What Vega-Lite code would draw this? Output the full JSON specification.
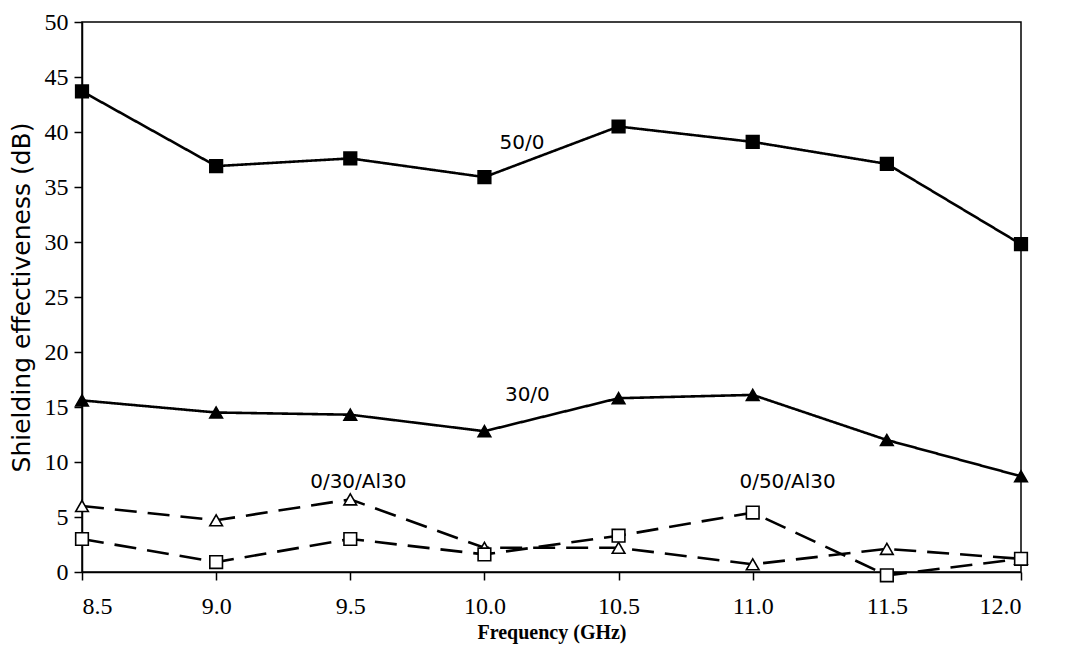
{
  "$schema": "https://vega.github.io/schema/vega-lite/v6.json",
  "autosize": "none",
  "width": 939,
  "height": 550,
  "padding": {"left": 82, "top": 22, "right": 56, "bottom": 77},
  "background": "white",
  "config": {
    "view": {"stroke": "black", "strokeWidth": 1.5}
  },
  "datasets": {
    "series": [
      {"f": 8.5, "se": 43.7, "s": "50/0"},
      {"f": 9.0, "se": 36.9, "s": "50/0"},
      {"f": 9.5, "se": 37.6, "s": "50/0"},
      {"f": 10.0, "se": 35.9, "s": "50/0"},
      {"f": 10.5, "se": 40.5, "s": "50/0"},
      {"f": 11.0, "se": 39.1, "s": "50/0"},
      {"f": 11.5, "se": 37.1, "s": "50/0"},
      {"f": 12.0, "se": 29.8, "s": "50/0"},
      {"f": 8.5, "se": 15.6, "s": "30/0"},
      {"f": 9.0, "se": 14.5, "s": "30/0"},
      {"f": 9.5, "se": 14.3, "s": "30/0"},
      {"f": 10.0, "se": 12.8, "s": "30/0"},
      {"f": 10.5, "se": 15.8, "s": "30/0"},
      {"f": 11.0, "se": 16.1, "s": "30/0"},
      {"f": 11.5, "se": 12.0, "s": "30/0"},
      {"f": 12.0, "se": 8.7, "s": "30/0"},
      {"f": 8.5, "se": 6.0, "s": "0/30/Al30"},
      {"f": 9.0, "se": 4.7, "s": "0/30/Al30"},
      {"f": 9.5, "se": 6.6, "s": "0/30/Al30"},
      {"f": 10.0, "se": 2.2, "s": "0/30/Al30"},
      {"f": 10.5, "se": 2.2, "s": "0/30/Al30"},
      {"f": 11.0, "se": 0.7, "s": "0/30/Al30"},
      {"f": 11.5, "se": 2.1, "s": "0/30/Al30"},
      {"f": 12.0, "se": 1.2, "s": "0/30/Al30"},
      {"f": 8.5, "se": 3.0, "s": "0/50/Al30"},
      {"f": 9.0, "se": 0.9, "s": "0/50/Al30"},
      {"f": 9.5, "se": 3.0, "s": "0/50/Al30"},
      {"f": 10.0, "se": 1.6, "s": "0/50/Al30"},
      {"f": 10.5, "se": 3.3, "s": "0/50/Al30"},
      {"f": 11.0, "se": 5.4, "s": "0/50/Al30"},
      {"f": 11.5, "se": -0.3, "s": "0/50/Al30"},
      {"f": 12.0, "se": 1.2, "s": "0/50/Al30"}
    ],
    "labels": [
      {"f": 10.14, "se": 39.0, "t": "50/0"},
      {"f": 10.16, "se": 16.1, "t": "30/0"},
      {"f": 9.53, "se": 8.2, "t": "0/30/Al30"},
      {"f": 11.13, "se": 8.2, "t": "0/50/Al30"}
    ]
  },
  "encoding": {
    "x": {"field": "f", "type": "quantitative", "scale": {"domain": [8.5, 12.0], "nice": false, "zero": false},
      "axis": {"grid": false, "values": [8.5, 9.0, 9.5, 10.0, 10.5, 11.0, 11.5, 12.0], "format": ".1f", "title": "Frequency (GHz)",
        "domainColor": "black", "domainWidth": 1.5, "tickColor": "black", "tickWidth": 1.5, "tickSize": 8,
        "labelColor": "black", "labelFont": "Liberation Serif", "labelFontSize": 24, "labelPadding": 14,
        "titleColor": "black", "titleFont": "Liberation Serif", "titleFontWeight": "bold", "titleFontSize": 20, "titlePadding": 4}},
    "y": {"field": "se", "type": "quantitative", "scale": {"domain": [0, 50], "nice": false},
      "axis": {"grid": false, "values": [0, 5, 10, 15, 20, 25, 30, 35, 40, 45, 50], "title": "Shielding effectiveness (dB)",
        "domainColor": "black", "domainWidth": 1.5, "tickColor": "black", "tickWidth": 1.5, "tickSize": 8,
        "labelColor": "black", "labelFont": "Liberation Serif", "labelFontSize": 24, "labelPadding": 6,
        "titleColor": "black", "titleFont": "DejaVu Sans", "titleFontWeight": "normal", "titleFontSize": 25, "titlePadding": 10}}
  },
  "layer": [
    {
      "data": {"name": "series"},
      "mark": {"type": "line", "color": "black", "strokeWidth": 2.6, "clip": false},
      "encoding": {
        "detail": {"field": "s"},
        "strokeDash": {"field": "s", "type": "nominal", "scale": {"domain": ["50/0", "30/0", "0/30/Al30", "0/50/Al30"], "range": [[1, 0], [1, 0], [22, 11], [22, 11]]}, "legend": null}
      }
    },
    {
      "data": {"name": "series"},
      "mark": {"type": "point", "filled": true, "stroke": "black", "strokeWidth": 1.6, "size": 160, "opacity": 1, "clip": false},
      "encoding": {
        "shape": {"field": "s", "type": "nominal", "scale": {"domain": ["50/0", "30/0", "0/30/Al30", "0/50/Al30"], "range": ["square", "triangle-up", "triangle-up", "square"]}, "legend": null},
        "fill": {"field": "s", "type": "nominal", "scale": {"domain": ["50/0", "30/0", "0/30/Al30", "0/50/Al30"], "range": ["black", "black", "white", "white"]}, "legend": null}
      }
    },
    {
      "data": {"name": "labels"},
      "mark": {"type": "text", "font": "DejaVu Sans", "fontSize": 20, "color": "black", "align": "center", "baseline": "middle"},
      "encoding": {"text": {"field": "t"}}
    }
  ]
}
